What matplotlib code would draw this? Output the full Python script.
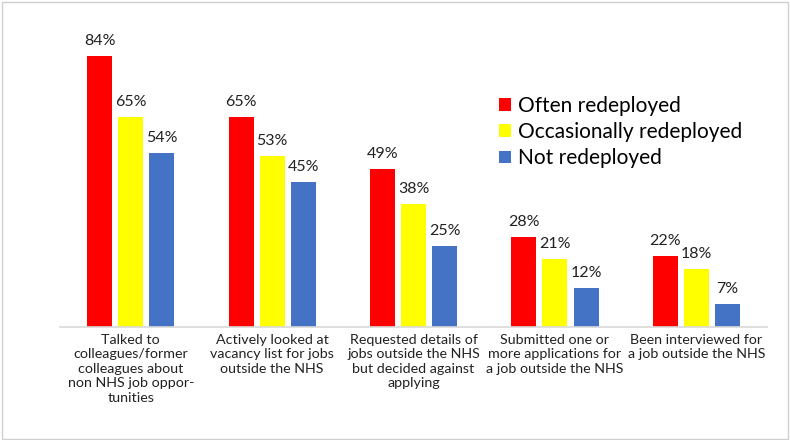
import matplotlib.pyplot as plt
from matplotlib.patches import Rectangle
import numpy as np

categories = [
    "Talked to\ncolleagues/former\ncolleagues about\nnon NHS job oppor-\ntunities",
    "Actively looked at\nvacancy list for jobs\noutside the NHS",
    "Requested details of\njobs outside the NHS\nbut decided against\napplying",
    "Submitted one or\nmore applications for\na job outside the NHS",
    "Been interviewed for\na job outside the NHS",
]
series_names = ["Often redeployed", "Occasionally redeployed", "Not redeployed"]
often = [84, 65, 49, 28, 22]
occasionally = [65, 53, 38, 21, 18]
not_redeployed = [54, 45, 25, 12, 7]
colors = ["#FF0000", "#FFFF00", "#4472C4"]

plt.rcParams['font.family'] = ['Lato', 'DejaVu Sans']

fig = plt.figure(figsize=(7.9, 4.4), dpi=100)
ax = fig.add_axes([0.076, 0.257, 0.895, 0.733])

x = np.arange(len(categories))
width = 0.177
offsets = [-0.22, 0, 0.22]
for vals, name, col, off in zip([often, occasionally, not_redeployed], series_names, colors, offsets):
    bars = ax.bar(x + off, vals, width, color=col, label=name)
    for b, v in zip(bars, vals):
        ax.text(b.get_x() + b.get_width() / 2, v + 2.5, f"{v}%",
                ha="center", va="bottom", fontsize=11.5, color="#222222")

ax.set_xlim(-0.5, len(categories) - 0.5)
ax.set_ylim(0, 100)
ax.set_xticks(x)
ax.set_xticklabels(categories, fontsize=10.3, linespacing=1.25, color="#222222")
ax.tick_params(axis="x", length=0, pad=5)
ax.set_yticks([])
for s in ["top", "right", "left"]:
    ax.spines[s].set_visible(False)
ax.spines["bottom"].set_color("#D9D9D9")
ax.spines["bottom"].set_linewidth(1.2)

ax.legend(loc="upper left", bbox_to_anchor=(0.595, 0.775), frameon=False,
          fontsize=15, handlelength=0.55, handleheight=0.55, handletextpad=0.35,
          labelspacing=0.3)

fig.patches.append(Rectangle((0.002, 0.003), 0.995, 0.993, transform=fig.transFigure,
                             fill=False, edgecolor="#D0D0D0", linewidth=1))

plt.savefig("out.png", dpi=100)
